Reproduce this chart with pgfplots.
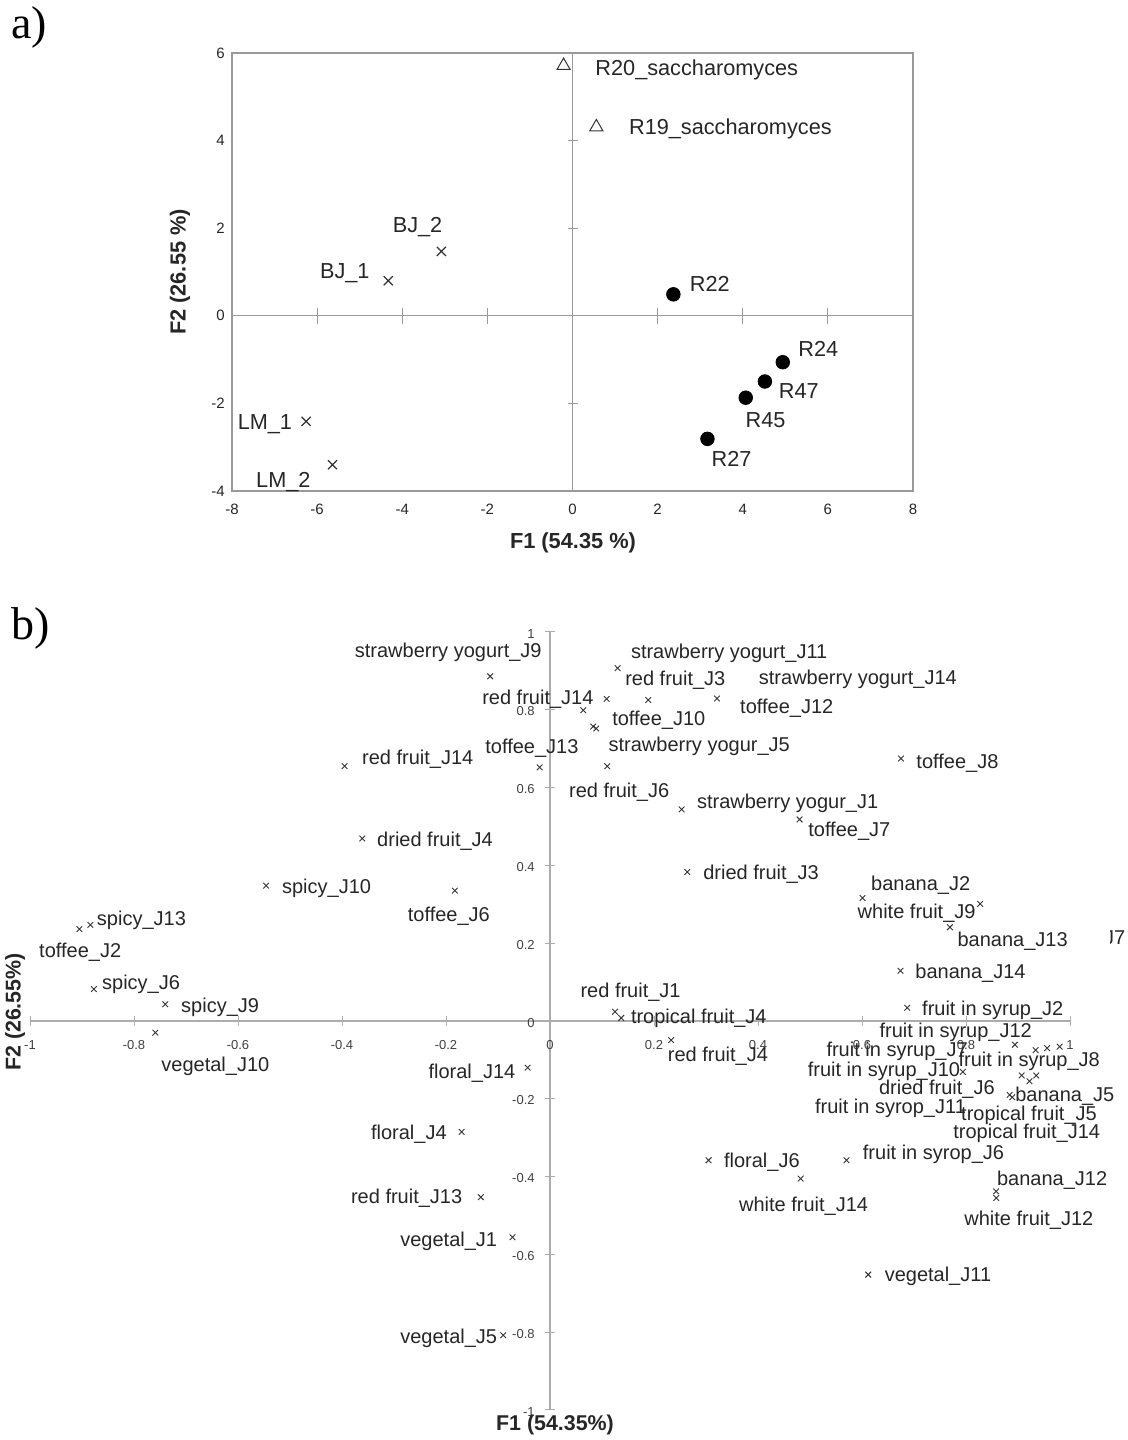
\documentclass[border=0pt]{standalone}
\usepackage{fontspec}
\setmainfont{Liberation Sans}
\newfontfamily\seriffont{Liberation Serif}
\usepackage{pgfplots}
\pgfplotsset{compat=1.18}
\tikzset{
  la/.style={font=\fontsize{10.85}{12}\selectfont, inner sep=0pt, text height=7.8pt, text depth=0pt, text=black!85},
  lb/.style={font=\fontsize{10}{12}\selectfont, inner sep=0pt, text height=7.2pt, text depth=0pt, text=black!85},
}
\begin{document}
\begin{tikzpicture}[x=1pt,y=1pt]
\path[use as bounding box] (0,0) rectangle (564,720);

% ---------- panel a: crosshair with ticks ----------
\begin{axis}[at={(116pt,474.5pt)}, anchor=south west, width=340.5pt, height=219pt, scale only axis,
  xmin=-8, xmax=8, ymin=-4, ymax=6, enlargelimits=false,
  axis lines=middle, axis line style={-, draw=gray!80, line width=0.5pt},
  every inner x axis line/.append style={-}, every inner y axis line/.append style={-},
  xtick={-6,-4,-2,2,4,6}, ytick=\empty, tick label style={opacity=0},
  tick align=center, major tick length=8pt, tick style={gray!80, line width=0.5pt}]
\end{axis}
\begin{axis}[at={(116pt,474.5pt)}, anchor=south west, width=340.5pt, height=219pt, scale only axis,
  xmin=-8, xmax=8, ymin=-4, ymax=6, enlargelimits=false,
  axis lines=middle, axis line style={-, draw=gray!80, line width=0.5pt},
  every inner x axis line/.append style={-}, every inner y axis line/.append style={-},
  xtick=\empty, ytick={-2,2,4}, tick label style={opacity=0},
  tick align=center, major tick length=5pt, tick style={gray!80, line width=0.5pt}]
\end{axis}

% ---------- panel a: frame, labels, data ----------
\begin{axis}[at={(116pt,474.5pt)}, anchor=south west, width=340.5pt, height=219pt, scale only axis,
  xmin=-8, xmax=8, ymin=-4, ymax=6, enlargelimits=false,
  xtick={-8,-6,-4,-2,0,2,4,6,8}, ytick={-4,-2,0,2,4,6},
  major tick length=0pt,
  axis line style={draw=gray!80, line width=0.6pt},
  tick label style={font=\fontsize{7.5}{9}\selectfont, text=black!85},
  /pgf/number format/assume math mode=true,
  xticklabel style={anchor=center, yshift=-9pt},
  yticklabel style={anchor=east, inner sep=0pt, xshift=-3.5pt},
  clip=false]
\addplot[only marks, mark=x, mark size=3.2pt, draw=black!80, line width=0.6pt]
  coordinates {(-3.08,1.47) (-4.33,0.80) (-6.26,-2.41) (-5.64,-3.40)};
\addplot[only marks, mark=triangle, mark size=3.8pt, draw=black!80, line width=0.5pt]
  coordinates {(-0.21,5.71) (0.56,4.31)};
\addplot[only marks, mark=*, mark size=3.4pt, black]
  coordinates {(2.37,0.49) (4.94,-1.06) (4.52,-1.50) (4.07,-1.87) (3.17,-2.81)};
\node[la, anchor=west] at (axis cs:0.53,5.67) {R20\_saccharomyces};
\node[la, anchor=west] at (axis cs:1.32,4.31) {R19\_saccharomyces};
\node[la, anchor=center] at (axis cs:-3.64,2.07) {BJ\_2};
\node[la, anchor=center] at (axis cs:-5.35,1.03) {BJ\_1};
\node[la, anchor=west] at (axis cs:2.75,0.74) {R22};
\node[la, anchor=west] at (axis cs:5.30,-0.75) {R24};
\node[la, anchor=west] at (axis cs:4.84,-1.71) {R47};
\node[la, anchor=west] at (axis cs:4.06,-2.37) {R45};
\node[la, anchor=west] at (axis cs:3.26,-3.27) {R27};
\node[la, anchor=east] at (axis cs:-6.58,-2.41) {LM\_1};
\node[la, anchor=west] at (axis cs:-7.44,-3.75) {LM\_2};
\end{axis}

\node[font=\bfseries\fontsize{10.9}{12}\selectfont, text=black!85] at (286.5,448.5) {F1 (54.35 \%)};
\node[font=\bfseries\fontsize{10.9}{12}\selectfont, text=black!85, rotate=90] at (90,584) {F2 (26.55 \%)};
\node[font=\seriffont\fontsize{23}{26}\selectfont] at (14.5,706.5) {a)};
\node[font=\seriffont\fontsize{23}{26}\selectfont] at (15.5,406) {b)};

% ---------- panel b ----------
\begin{axis}[at={(15pt,15pt)}, anchor=south west, width=520pt, height=389pt, scale only axis,
  xmin=-1, xmax=1, ymin=-1, ymax=1, enlargelimits=false,
  axis lines=middle, axis line style={-, draw=gray!65, line width=0.6pt},
  every inner x axis line/.append style={-}, every inner y axis line/.append style={-},
  xtick={-1,-0.8,-0.6,-0.4,-0.2,0,0.2,0.4,0.6,0.8,1},
  ytick={-1,-0.8,-0.6,-0.4,-0.2,0,0.2,0.4,0.6,0.8,1},
  tick align=center, major tick length=5pt, tick style={gray!65, line width=0.5pt},
  hide obscured x ticks=false, hide obscured y ticks=false,
  tick label style={font=\fontsize{6.5}{7}\selectfont, text=black!75},
  /pgf/number format/assume math mode=true,
  xticklabel style={anchor=center, yshift=-9.5pt},
  yticklabel style={anchor=east, inner sep=0pt, xshift=-5pt, yshift=-0.8pt},
  clip=false]
\addplot[only marks, mark=x, mark size=2pt, draw=black!80, line width=0.45pt] coordinates {
(-0.115,0.886) (-0.395,0.655) (-0.020,0.652) (-0.361,0.469) (-0.546,0.348)
(-0.183,0.335) (-0.905,0.236) (-0.884,0.247) (-0.877,0.082) (-0.740,0.043)
(-0.759,-0.030) (-0.043,-0.120) (-0.170,-0.285) (-0.133,-0.453) (-0.072,-0.556)
(-0.090,-0.808) (0.130,0.907) (0.109,0.828) (0.189,0.825) (0.321,0.829)
(0.064,0.799) (0.083,0.757) (0.089,0.752) (0.110,0.655) (0.253,0.544)
(0.480,0.518) (0.675,0.675) (0.264,0.383) (0.601,0.316) (0.827,0.301)
(0.769,0.241) (0.674,0.129) (0.125,0.024) (0.137,0.008) (0.233,-0.049)
(0.687,0.034) (0.894,-0.061) (0.934,-0.075) (0.956,-0.070) (0.980,-0.066)
(0.794,-0.131) (0.907,-0.140) (0.935,-0.140) (0.922,-0.155) (0.884,-0.190)
(0.889,-0.196) (0.305,-0.358) (0.570,-0.358) (0.482,-0.405) (0.858,-0.438)
(0.858,-0.455) (0.612,-0.652)};
\node[lb, anchor=west] at (axis cs:-0.376,0.952) {strawberry yogurt\_J9};
\node[lb, anchor=west] at (axis cs:-0.362,0.679) {red fruit\_J14};
\node[lb, anchor=west] at (axis cs:-0.333,0.467) {dried fruit\_J4};
\node[lb, anchor=west] at (axis cs:-0.516,0.346) {spicy\_J10};
\node[lb, anchor=west] at (axis cs:-0.274,0.275) {toffee\_J6};
\node[lb, anchor=west] at (axis cs:-0.872,0.265) {spicy\_J13};
\node[lb, anchor=west] at (axis cs:-0.983,0.181) {toffee\_J2};
\node[lb, anchor=west] at (axis cs:-0.862,0.099) {spicy\_J6};
\node[lb, anchor=west] at (axis cs:-0.710,0.041) {spicy\_J9};
\node[lb, anchor=west] at (axis cs:-0.748,-0.112) {vegetal\_J10};
\node[lb, anchor=west] at (axis cs:-0.131,0.832) {red fruit\_J14};
\node[lb, anchor=west] at (axis cs:-0.125,0.705) {toffee\_J13};
\node[lb, anchor=west] at (axis cs:0.155,0.950) {strawberry yogurt\_J11};
\node[lb, anchor=west] at (axis cs:0.144,0.880) {red fruit\_J3};
\node[lb, anchor=west] at (axis cs:0.401,0.883) {strawberry yogurt\_J14};
\node[lb, anchor=west] at (axis cs:0.365,0.810) {toffee\_J12};
\node[lb, anchor=west] at (axis cs:0.119,0.778) {toffee\_J10};
\node[lb, anchor=west] at (axis cs:0.112,0.711) {strawberry yogur\_J5};
\node[lb, anchor=west] at (axis cs:0.704,0.668) {toffee\_J8};
\node[lb, anchor=west] at (axis cs:0.036,0.593) {red fruit\_J6};
\node[lb, anchor=west] at (axis cs:0.282,0.565) {strawberry yogur\_J1};
\node[lb, anchor=west] at (axis cs:0.496,0.493) {toffee\_J7};
\node[lb, anchor=west] at (axis cs:0.294,0.383) {dried fruit\_J3};
\node[lb, anchor=west] at (axis cs:0.617,0.354) {banana\_J2};
\node[lb, anchor=west] at (axis cs:0.591,0.281) {white fruit\_J9};
\node[lb, anchor=west] at (axis cs:0.783,0.209) {banana\_J13};
\node[lb, anchor=west] at (axis cs:0.702,0.127) {banana\_J14};
\node[lb, anchor=west] at (axis cs:0.058,0.079) {red fruit\_J1};
\node[lb, anchor=west] at (axis cs:0.155,0.013) {tropical fruit\_J4};
\node[lb, anchor=west] at (axis cs:0.715,0.033) {fruit in syrup\_J2};
\node[lb, anchor=west] at (axis cs:0.226,-0.086) {red fruit\_J4};
\node[lb, anchor=west] at (axis cs:0.633,-0.024) {fruit in syrup\_J12};
\node[lb, anchor=west] at (axis cs:0.531,-0.073) {fruit in syrup\_J7};
\node[lb, anchor=west] at (axis cs:0.785,-0.099) {fruit in syrup\_J8};
\node[lb, anchor=west] at (axis cs:0.495,-0.124) {fruit in syrup\_J10};
\node[lb, anchor=west] at (axis cs:0.632,-0.170) {dried fruit\_J6};
\node[lb, anchor=west] at (axis cs:0.894,-0.189) {banana\_J5};
\node[lb, anchor=west] at (axis cs:0.509,-0.219) {fruit in syrop\_J11};
\node[lb, anchor=west] at (axis cs:0.790,-0.238) {tropical fruit\_J5};
\node[lb, anchor=west] at (axis cs:0.775,-0.283) {tropical fruit\_J14};
\node[lb, anchor=west] at (axis cs:0.334,-0.358) {floral\_J6};
\node[lb, anchor=west] at (axis cs:0.601,-0.338) {fruit in syrop\_J6};
\node[lb, anchor=west] at (axis cs:0.363,-0.470) {white fruit\_J14};
\node[lb, anchor=west] at (axis cs:0.859,-0.405) {banana\_J12};
\node[lb, anchor=west] at (axis cs:0.796,-0.506) {white fruit\_J12};
\node[lb, anchor=west] at (axis cs:0.643,-0.652) {vegetal\_J11};
\node[lb, anchor=east] at (axis cs:-0.066,-0.129) {floral\_J14};
\node[lb, anchor=east] at (axis cs:-0.198,-0.286) {floral\_J4};
\node[lb, anchor=east] at (axis cs:-0.168,-0.451) {red fruit\_J13};
\node[lb, anchor=east] at (axis cs:-0.101,-0.560) {vegetal\_J1};
\node[lb, anchor=east] at (axis cs:-0.101,-0.811) {vegetal\_J5};
\end{axis}

\begin{scope}
\clip (555.0,240) rectangle (564,262);
\node[lb, anchor=west] at (551.8,251.5) {J7};
\end{scope}

\node[font=\bfseries\fontsize{10.7}{12}\selectfont, text=black!85] at (277.5,7.5) {F1 (54.35\%)};
\node[font=\bfseries\fontsize{10.7}{12}\selectfont, text=black!85, rotate=90] at (7.5,214) {F2 (26.55\%)};
\end{tikzpicture}
\end{document}
